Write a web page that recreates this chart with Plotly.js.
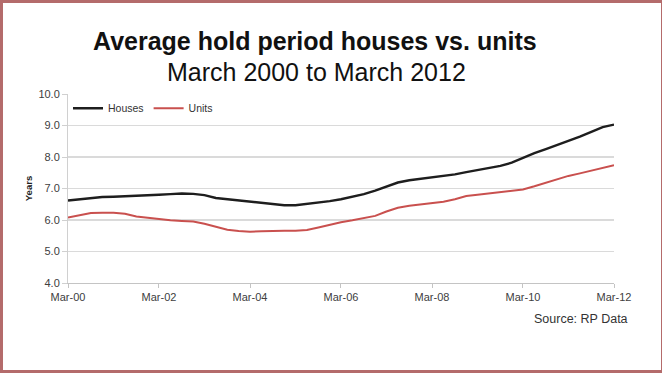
<!DOCTYPE html>
<html>
<head>
<meta charset="utf-8">
<script src="https://cdn.plot.ly/plotly-3.0.1.min.js"></script>
<style>
html,body{margin:0;padding:0;background:#fff;}
#wrap{position:relative;width:662px;height:373px;}
#chart{width:662px;height:373px;}
#frame{position:absolute;left:0;top:0;width:662px;height:373px;box-sizing:border-box;border:3px solid #b46b6b;border-right-width:1px;pointer-events:none;}
</style>
</head>
<body>
<div id="wrap"><div id="chart"></div><div id="frame"></div></div>
<script>
var dates = [
 "2000-03-01","2000-06-01","2000-09-01","2000-12-01",
 "2001-03-01","2001-06-01","2001-09-01","2001-12-01",
 "2002-03-01","2002-06-01","2002-09-01","2002-12-01",
 "2003-03-01","2003-06-01","2003-09-01","2003-12-01",
 "2004-03-01","2004-06-01","2004-09-01","2004-12-01",
 "2005-03-01","2005-06-01","2005-09-01","2005-12-01",
 "2006-03-01","2006-06-01","2006-09-01","2006-12-01",
 "2007-03-01","2007-06-01","2007-09-01","2007-12-01",
 "2008-03-01","2008-06-01","2008-09-01","2008-12-01",
 "2009-03-01","2009-06-01","2009-09-01","2009-12-01",
 "2010-03-01","2010-06-01","2010-09-01","2010-12-01",
 "2011-03-01","2011-06-01","2011-09-01","2011-12-01",
 "2012-03-01"
];
var houses = [
 6.62,6.66,6.70,6.73,
 6.74,6.75,6.76,6.79,
 6.80,6.82,6.84,6.83,
 6.79,6.70,6.66,6.62,
 6.58,6.54,6.50,6.47,
 6.47,6.51,6.55,6.60,
 6.66,6.73,6.82,6.93,
 7.07,7.19,7.26,7.31,
 7.34,7.39,7.45,7.52,
 7.58,7.65,7.72,7.82,
 7.97,8.12,8.25,8.38,
 8.52,8.65,8.80,8.95,
 9.03
];
var units = [
 6.08,6.14,6.22,6.23,
 6.23,6.20,6.11,6.07,
 6.02,5.99,5.97,5.95,
 5.88,5.78,5.69,5.65,
 5.63,5.64,5.66,5.66,
 5.66,5.68,5.76,5.85,
 5.93,5.99,6.05,6.13,
 6.27,6.39,6.45,6.50,
 6.53,6.58,6.66,6.76,
 6.80,6.84,6.88,6.93,
 6.97,7.07,7.18,7.30,
 7.40,7.48,7.57,7.66,
 7.74
];
var xTickVals = ["2000-03-01","2002-03-01","2004-03-01","2006-03-01","2008-03-01","2010-03-01","2012-03-01"];
var xTickText = ["Mar-00","Mar-02","Mar-04","Mar-06","Mar-08","Mar-10","Mar-12"];
var yTickVals = [4,5,6,7,8,9,10];
var yTickText = ["4.0","5.0","6.0","7.0","8.0","9.0","10.0"];

var FONT = "Liberation Sans, Arial, sans-serif";

var traces = [
 {x: dates, y: houses, name: "Houses", type: "scatter", mode: "lines",
  line: {color: "#1e1e1e", width: 2.4}},
 {x: dates, y: units, name: "Units", type: "scatter", mode: "lines",
  line: {color: "#c9504e", width: 2}}
];

var layout = {
 width: 662, height: 373,
 margin: {l: 68, r: 48, t: 94, b: 90, pad: 0},
 paper_bgcolor: "#ffffff", plot_bgcolor: "#ffffff",
 font: {family: FONT, color: "#404040", size: 11},
 showlegend: true,
 legend: {orientation: "h", x: 0.0, y: 0.925, xanchor: "left", yanchor: "middle",
  font: {family: FONT, size: 10.5, color: "#333"}, bgcolor: "rgba(0,0,0,0)",
  itemwidth: 30, tracegroupgap: 0},
 xaxis: {type: "date", range: ["2000-03-01","2012-03-01"],
  tickvals: xTickVals, ticktext: xTickText,
  showgrid: false, zeroline: false,
  showline: true, linecolor: "#c4c4c4", linewidth: 1,
  ticks: "outside", ticklen: 4, tickcolor: "#c4c4c4",
  tickfont: {family: FONT, size: 11, color: "#404040"}},
 yaxis: {range: [4, 10], tickvals: yTickVals, ticktext: yTickText,
  showgrid: true, gridcolor: "#dadada", gridwidth: 1.6,
  zeroline: false, showline: true, linecolor: "#d0d0d0", linewidth: 1,
  ticks: "outside", ticklen: 5, tickcolor: "#d0d0d0",
  tickfont: {family: FONT, size: 11, color: "#404040"},
  title: {text: "<b>Years</b>", font: {family: FONT, size: 9.5, color: "#222"}, standoff: 4}},
 annotations: [
  {text: "<b>Average hold period houses vs. units</b>", xref: "paper", yref: "paper",
   x: 0.452, y: 1.280, xanchor: "center", yanchor: "middle", showarrow: false,
   font: {family: FONT, size: 25, color: "#111"}},
  {text: "March 2000 to March 2012", xref: "paper", yref: "paper",
   x: 0.456, y: 1.116, xanchor: "center", yanchor: "middle", showarrow: false,
   font: {family: FONT, size: 25, color: "#111"}},
  {text: "Source: RP Data", xref: "paper", yref: "paper",
   x: 1.029, y: -0.19, xanchor: "right", yanchor: "middle", showarrow: false,
   font: {family: FONT, size: 12.5, color: "#333"}}
 ]
};

Plotly.newPlot("chart", traces, layout, {displayModeBar: false, staticPlot: true});
</script>
</body>
</html>
